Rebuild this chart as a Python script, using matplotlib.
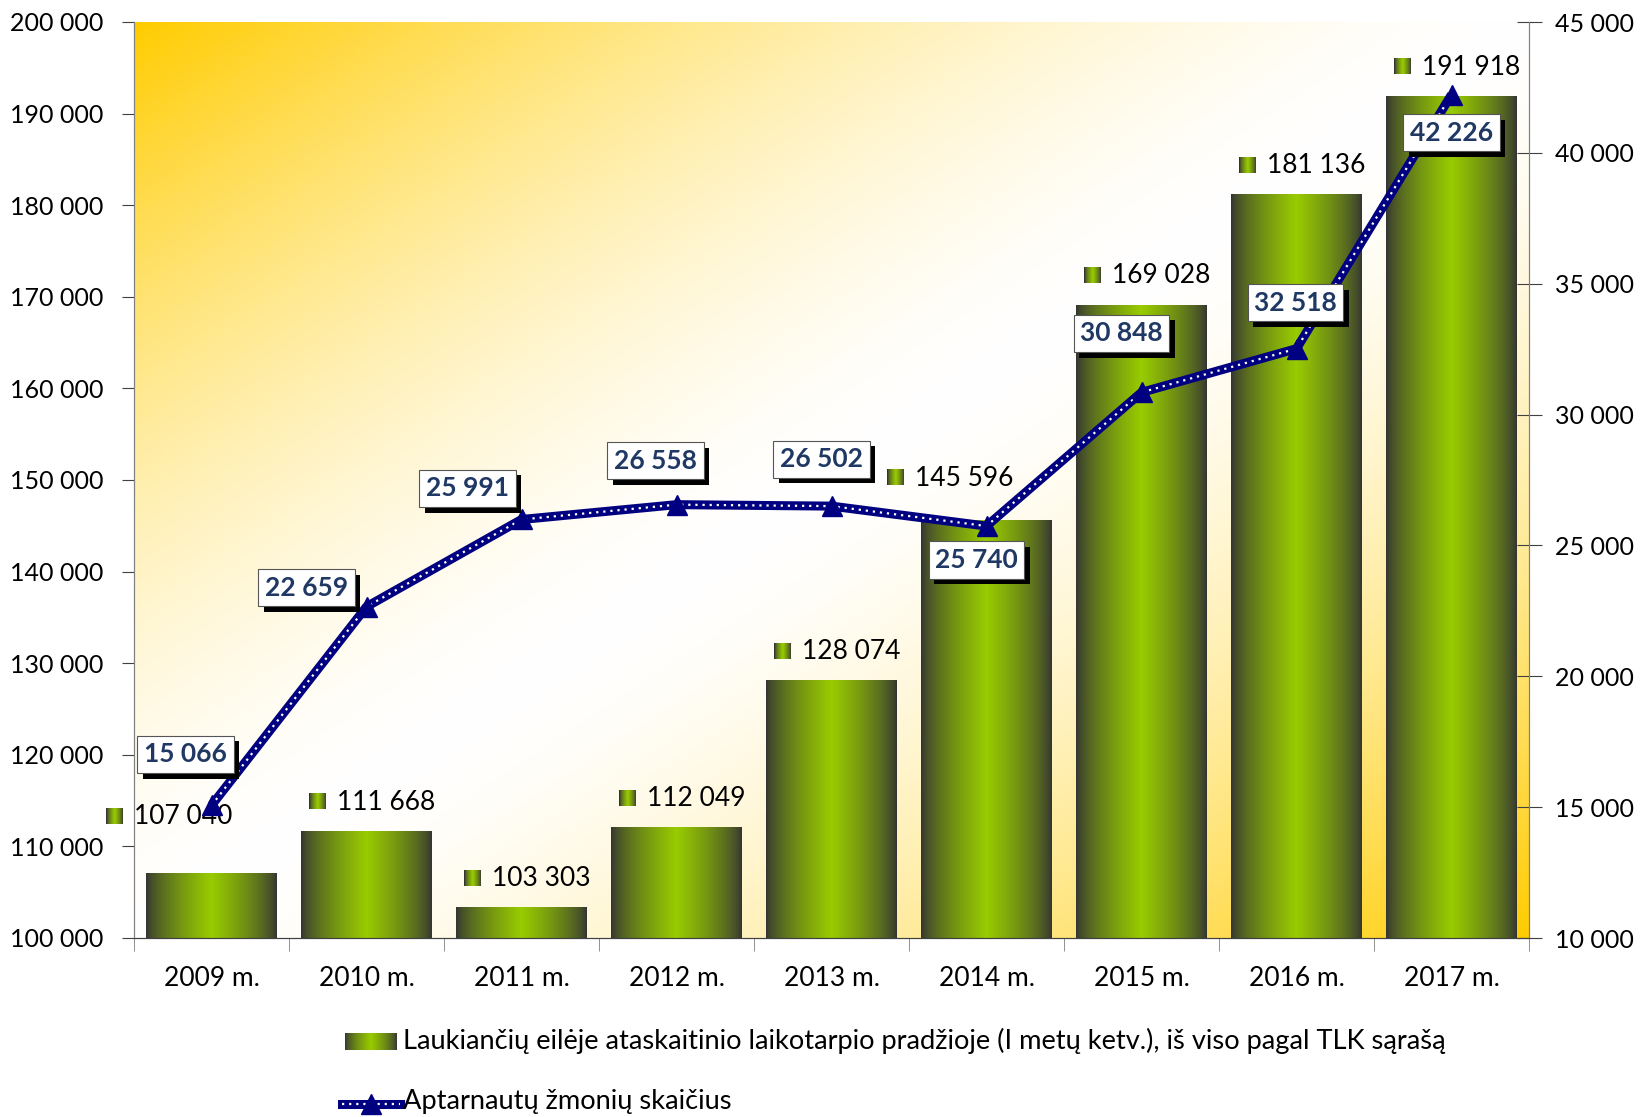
import numpy as np
import matplotlib
matplotlib.use('Agg')
import matplotlib.pyplot as plt
import matplotlib.patheffects as pe
from matplotlib.lines import Line2D
from matplotlib.colors import to_rgb
from matplotlib.offsetbox import OffsetImage, AnnotationBbox

# %% data
years = ['2009 m.', '2010 m.', '2011 m.', '2012 m.', '2013 m.',
         '2014 m.', '2015 m.', '2016 m.', '2017 m.']
waiting = [107040, 111668, 103303, 112049, 128074, 145596, 169028, 181136, 191918]
served = [15066, 22659, 25991, 26558, 26502, 25740, 30848, 32518, 42226]
waiting_name = 'Laukiančių eilėje ataskaitinio laikotarpio pradžioje (I metų ketv.), iš viso pagal TLK sąrašą'
served_name = 'Aptarnautų žmonių skaičius'
left_ticks = list(range(100000, 200001, 10000))
right_ticks = list(range(10000, 45001, 5000))

# label placement (pixels): bar labels (dx, dy above bar top), line labels (dx, dy)
bar_lbl_off = [(-48, 57), (0, 29), (0, 29), (0, 29), (0, 29), (-42, 42), (0, 30), (0, 29), (0, 29)]
line_lbl_off = [(-26, 51), (-60, 19), (-54, 31), (-21, 44), (-10, 47), (-10, -34), (-20, 59), (-1, 46), (0, -38)]

plt.rcParams['font.family'] = ['Lato', 'DejaVu Sans']
FS = 18
W, H = 1642, 1117
fig = plt.figure(figsize=(W / 100, H / 100), dpi=100)
L, R, T, B = 134, 1529, 22, 938
ax = fig.add_axes([L / W, 1 - B / H, (R - L) / W, (B - T) / H])
ax2 = ax.twinx()

fmt = lambda v: f'{v:,}'.replace(',', ' ')

# background gradient: gold in top-left and bottom-right, white on the diagonal
gx, gy = np.meshgrid(np.linspace(0, 1, 400), np.linspace(0, 1, 300))
t = np.abs(gx + gy - 1) ** 1.6
gold = np.array(to_rgb('#FFCC00'))
bg = 1 - t[..., None] * (1 - gold)
ax.imshow(bg, extent=[0, 1, 0, 1], transform=ax.transAxes, aspect='auto', zorder=0)

# bar gradient
dark = np.array(to_rgb('#333333'))
green = np.array(to_rgb('#99CC00'))
u = np.linspace(0, 1, 200)
s = (1 - np.abs(2 * u - 1)) ** 0.7
grad = dark + (green - dark) * s[:, None]
grad_img = grad[None, :, :]

x = np.arange(len(years))
bw = 0.84
bars = ax.bar(x, waiting, width=bw, color='none', zorder=2)
for b in bars:
    x0, y0 = b.get_x(), 100000
    ax.imshow(grad_img, extent=[x0, x0 + b.get_width(), y0, b.get_height()],
              aspect='auto', zorder=2)

ax.set_xlim(-0.5, len(years) - 0.5)
ax.set_ylim(100000, 200000)
ax.set_yticks(left_ticks)
ax.set_yticklabels([fmt(v) for v in left_ticks])
ax.set_xticks(x)
ax.set_xticklabels(years)
ax.set_xticks(np.arange(-0.5, len(years), 1), minor=True)
ax.tick_params(axis='x', which='major', length=0, pad=20.5, labelsize=19)
ax.tick_params(axis='x', which='minor', length=9, color='#808080')
ax.tick_params(axis='y', length=9, pad=13, labelsize=FS, color='#404040')

# bar value labels with small swatch
sw = np.repeat(grad[None, ::12, :], 16, axis=0)
for i, v in enumerate(waiting):
    dx, dy = bar_lbl_off[i]
    ab = AnnotationBbox(OffsetImage(sw, zoom=1, dpi_cor=False), (i, v),
                        xybox=(dx - 58, dy + 1), xycoords='data', boxcoords='offset pixels',
                        box_alignment=(0, 0.5), frameon=False, zorder=5)
    ax.add_artist(ab)
    ax.annotate(fmt(v), (i, v), xytext=(dx - 30, dy), textcoords='offset pixels',
                ha='left', va='center', fontsize=19, color='black', zorder=5)

# served line
ax2.plot(x, served, color='#000080', lw=6.5, zorder=3, solid_capstyle='butt')
ax2.plot(x, served, color='white', lw=1.6, ls=(0, (1, 2.2)), zorder=4)
ax2.plot(x, served, ls='none', marker='^', ms=14, color='#000080', zorder=4)
ax2.set_ylim(10000, 45000)
ax2.set_yticks(right_ticks)
ax2.set_yticklabels([fmt(v) for v in right_ticks])
ax2.tick_params(axis='y', length=18, direction='inout', pad=10, labelsize=FS, color='#404040')

for i, v in enumerate(served):
    dx, dy = line_lbl_off[i]
    tx = ax2.annotate(fmt(v), (i, v), xytext=(dx, dy), textcoords='offset pixels',
                      ha='center', va='center', fontsize=19, fontweight='bold',
                      color='#1F3864', zorder=6,
                      bbox=dict(boxstyle='square,pad=0.25', fc='white', ec='#555555', lw=0.8))
    tx.get_bbox_patch().set_path_effects([
        pe.SimplePatchShadow(offset=(4, -4), shadow_rgbFace='black', alpha=1), pe.Normal()])

for a in (ax, ax2):
    a.spines['top'].set_visible(False)
    a.spines['left'].set_color('#808080')
    a.spines['right'].set_color('#808080')
    a.spines['bottom'].set_color('#404040')

# legend (drawn by hand to keep the gradient swatch)
lax = fig.add_axes([345 / W, 1 - 1050 / H, 52 / W, 17 / H])
lax.imshow(grad_img, aspect='auto', extent=[0, 1, 0, 1])
lax.axis('off')
fig.text(403 / W, 1 - 1041 / H, waiting_name, ha='left', va='center', fontsize=19.6)

ly = 1 - 1104 / H
fig.add_artist(Line2D([342 / W, 400 / W], [ly, ly], color='#000080', lw=6.5))
fig.add_artist(Line2D([342 / W, 400 / W], [ly, ly], color='white', lw=1.6, ls=(0, (1, 2.2))))
fig.add_artist(Line2D([371 / W], [ly], marker='^', ms=14, color='#000080', ls='none'))
fig.text(403 / W, 1 - 1101 / H, served_name, ha='left', va='center', fontsize=19.6)

fig.savefig('out.png', dpi=100)
